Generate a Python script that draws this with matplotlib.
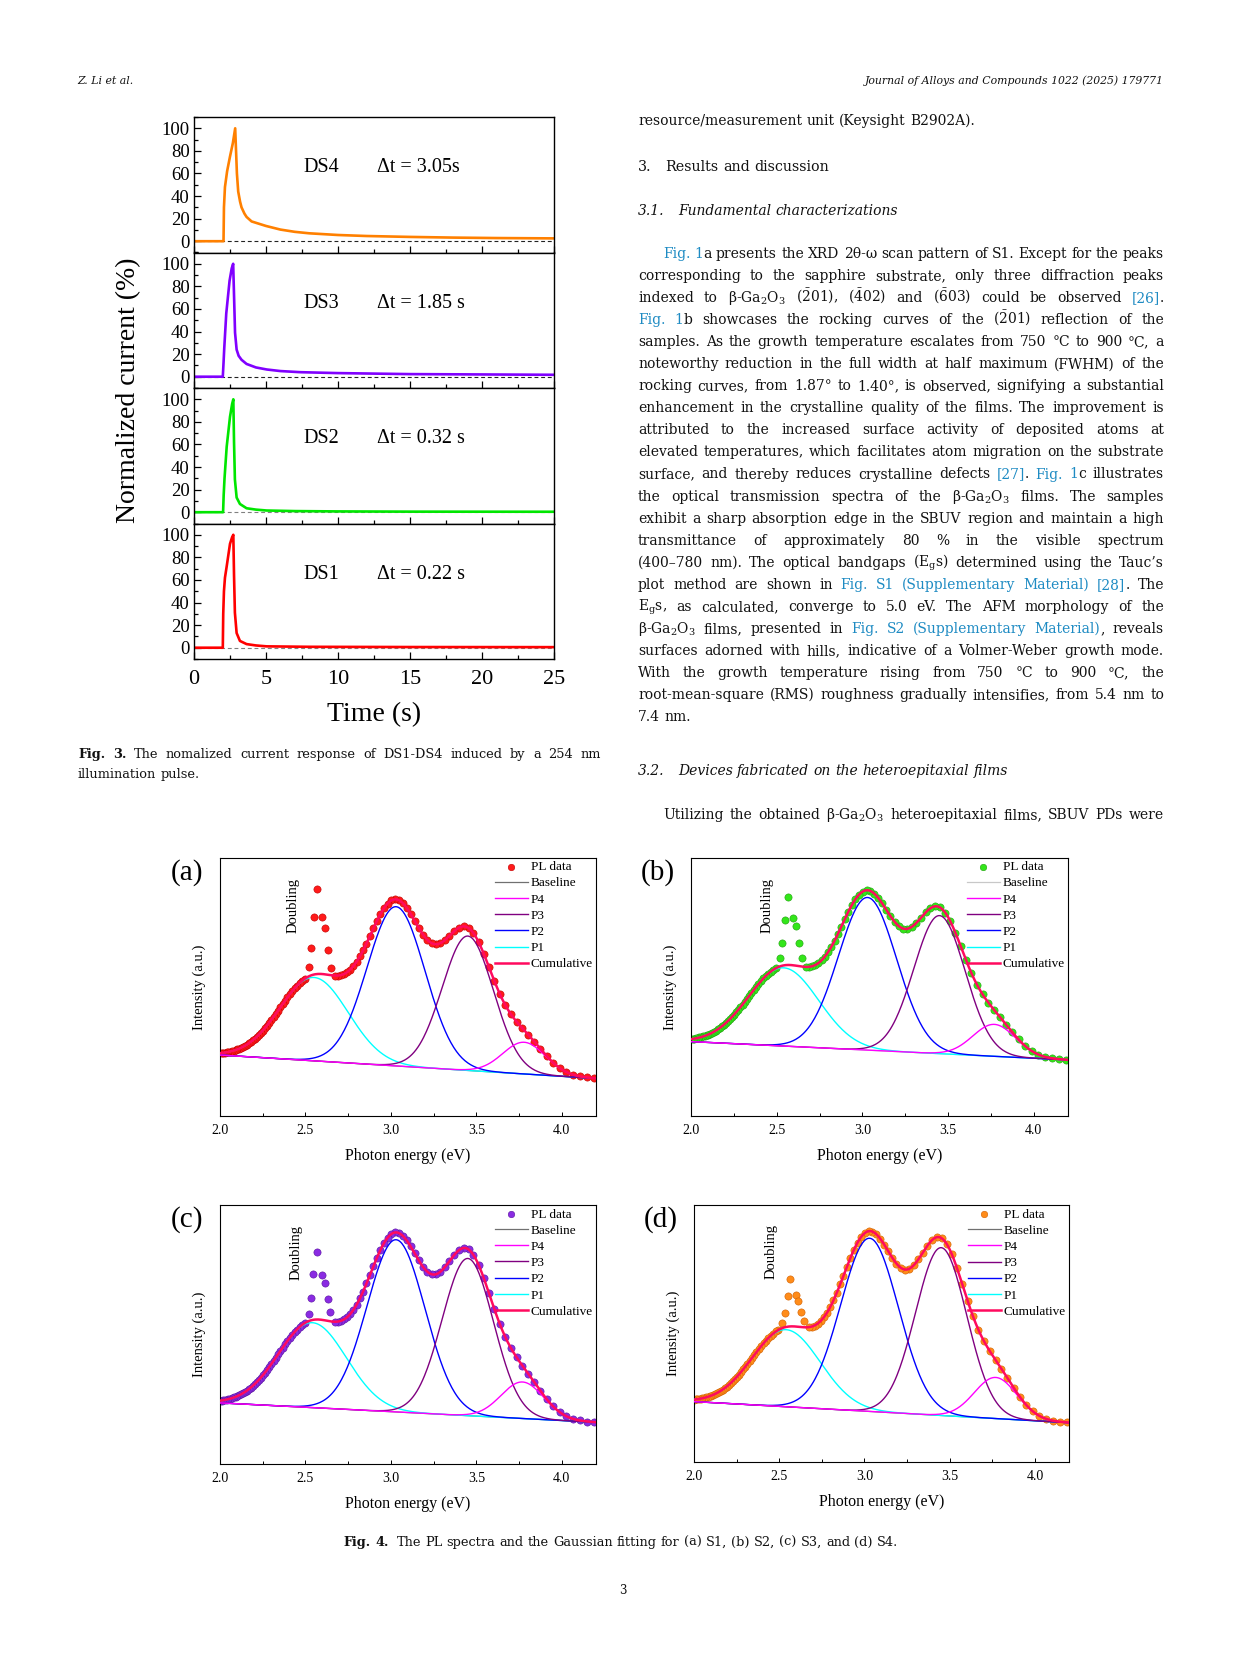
import numpy as np
import matplotlib
matplotlib.use('Agg')
import matplotlib.pyplot as plt
from matplotlib.ticker import MultipleLocator, NullLocator

plt.rcParams['font.family'] = ['Liberation Serif', 'DejaVu Serif']
plt.rcParams['mathtext.fontset'] = 'custom'
plt.rcParams['mathtext.rm'] = 'DejaVu Serif'
plt.rcParams['mathtext.default'] = 'regular'

### ---------------- Fig. 3 data: normalized photocurrent pulses ----------------
ds_names = ['DS4', 'DS3', 'DS2', 'DS1']
dt_labels = ['Δt = 3.05s', 'Δt = 1.85 s', 'Δt = 0.32 s', 'Δt = 0.22 s']
t_ds4 = [0, 2.05, 2.08, 2.15, 2.3, 2.5, 2.7, 2.86, 2.92, 2.98, 3.07, 3.2, 3.3, 3.5, 3.65, 4, 5, 6, 7, 8, 10, 12, 15, 18, 21, 25]
i_ds4 = [0, 0, 30, 48, 62, 75, 87, 100, 80, 60, 44, 35, 30, 24.5, 21.5, 17.5, 13.5, 10.3, 8.3, 7.0, 5.5, 4.6, 3.8, 3.2, 2.8, 2.5]
t_ds3 = [0, 2.0, 2.05, 2.1, 2.24, 2.47, 2.62, 2.72, 2.78, 2.85, 2.96, 3.1, 3.3, 3.65, 4.3, 5.05, 6, 7.4, 10, 15, 20, 25]
i_ds3 = [0, 0, 12, 25, 56, 85, 96, 100, 72, 39, 24, 18.5, 15, 11.3, 8.2, 6.4, 5.0, 4.0, 3.2, 2.3, 2.0, 1.7]
t_ds2 = [0, 2.02, 2.06, 2.12, 2.27, 2.5, 2.65, 2.73, 2.78, 2.84, 2.96, 3.19, 3.65, 4.3, 5.05, 7, 10, 15, 25]
i_ds2 = [0, 0, 15, 30, 58, 84.5, 96, 100, 62, 29, 13, 7.3, 3.5, 2.3, 1.5, 1.0, 0.7, 0.5, 0.4]
t_ds1 = [0, 2.0, 2.03, 2.08, 2.15, 2.27, 2.5, 2.65, 2.73, 2.78, 2.84, 2.96, 3.19, 3.65, 4.3, 5.05, 8, 15, 25]
i_ds1 = [0, 0, 30, 50, 62, 72, 92, 98, 100, 64, 31, 13, 6, 3.2, 2.0, 1.2, 0.8, 0.6, 0.5]
ds_colors = ['#FF8000', '#8000FF', '#00E600', '#FF0000']
dash_colors = ['#222222', '#222222', '#808080', '#808080']

### ---------------- Fig. 4 data: PL spectra (intensity in % of axis height) ----------------
# spectrometer grid in nm (the 2.51-2.66 eV doubling region is listed separately)
wl = np.concatenate([np.arange(296, 465, 3), np.arange(497, 621, 3)])
pl_a = [15.5, 15.8, 16.2, 17.0, 18.1, 19.7, 21.9, 24.6, 27.6, 30.5, 33.3, 36.0, 38.7, 41.8, 45.6, 50.2, 55.5, 61.1, 66.6, 71.4, 74.9, 77.1, 77.7, 77.2, 75.7,
        73.8, 72.1, 70.9, 70.4, 70.9, 72.3, 74.4, 77.1, 80.0, 82.9, 85.4, 87.3, 88.5, 88.8, 88.4, 87.1, 85.2, 82.7, 79.9, 76.9, 73.8, 70.7, 67.9, 65.4, 63.2,
        61.4, 60.0, 58.9, 58.2, 57.8, 57.6, 57.6, 56.2, 55.4, 54.5, 53.5, 52.3, 51.1, 49.9, 48.6, 47.2, 45.9, 44.5, 43.2, 41.9, 40.6, 39.4, 38.2, 37.1, 36.1,
        35.0, 34.1, 33.2, 32.4, 31.7, 31.0, 30.4, 29.8, 29.3, 28.8, 28.4, 28.0, 27.6, 27.3, 27.1, 26.8, 26.6, 26.4, 26.3, 26.1, 26.0, 25.9, 25.8, 25.8]
pl_b = [23.1, 23.3, 23.7, 24.3, 25.2, 26.7, 28.8, 31.4, 34.3, 37.4, 40.5, 43.5, 46.5, 49.9, 53.9, 58.6, 64.0, 69.7, 75.1, 79.9, 83.4, 85.5, 86.0, 85.2, 83.5,
        81.3, 79.2, 77.6, 76.8, 76.8, 77.9, 79.7, 82.0, 84.6, 87.2, 89.5, 91.2, 92.3, 92.6, 92.0, 90.8, 88.9, 86.5, 83.7, 80.7, 77.6, 74.6, 71.8, 69.3, 67.1,
        65.3, 63.8, 62.7, 61.9, 61.4, 61.2, 61.1, 60.6, 60.0, 59.2, 58.3, 57.4, 56.4, 55.3, 54.1, 52.9, 51.7, 50.5, 49.3, 48.1, 46.9, 45.7, 44.6, 43.5, 42.5,
        41.5, 40.6, 39.7, 38.9, 38.1, 37.4, 36.7, 36.1, 35.5, 35.0, 34.6, 34.1, 33.8, 33.4, 33.1, 32.8, 32.6, 32.4, 32.2, 32.0, 31.8, 31.7, 31.6, 31.5]
pl_c = [16.2, 16.4, 16.8, 17.4, 18.5, 20.0, 22.3, 25.0, 28.2, 31.5, 34.8, 38.0, 41.2, 44.8, 49.1, 54.2, 59.9, 66.0, 71.9, 76.9, 80.7, 82.9, 83.4, 82.5, 80.6,
        78.3, 76.0, 74.2, 73.3, 73.3, 74.3, 76.1, 78.6, 81.3, 84.0, 86.3, 88.1, 89.2, 89.4, 88.8, 87.4, 85.3, 82.6, 79.6, 76.3, 72.9, 69.7, 66.6, 63.9, 61.5,
        59.5, 57.9, 56.7, 55.8, 55.3, 55.0, 54.9, 54.4, 53.7, 52.9, 51.9, 50.9, 49.8, 48.7, 47.4, 46.2, 44.9, 43.6, 42.3, 41.0, 39.8, 38.6, 37.4, 36.3, 35.3,
        34.2, 33.3, 32.4, 31.6, 30.8, 30.1, 29.4, 28.8, 28.3, 27.8, 27.3, 26.9, 26.6, 26.2, 25.9, 25.7, 25.4, 25.2, 25.1, 24.9, 24.8, 24.6, 24.5, 24.5]
pl_d = [15.4, 15.7, 16.1, 16.8, 18.0, 19.7, 22.2, 25.4, 28.9, 32.6, 36.3, 39.7, 43.2, 47.0, 51.4, 56.7, 62.8, 69.2, 75.4, 80.8, 84.8, 87.0, 87.5, 86.4, 84.2,
        81.5, 78.8, 76.6, 75.2, 74.9, 75.6, 77.2, 79.5, 82.1, 84.6, 86.9, 88.6, 89.6, 89.8, 89.1, 87.6, 85.4, 82.6, 79.4, 76.0, 72.5, 69.1, 65.8, 62.9, 60.3,
        58.1, 56.3, 54.9, 53.8, 53.1, 52.7, 52.5, 51.4, 50.8, 50.0, 49.2, 48.2, 47.2, 46.2, 45.1, 43.9, 42.8, 41.6, 40.4, 39.3, 38.1, 37.0, 36.0, 35.0, 34.0,
        33.1, 32.2, 31.4, 30.7, 30.0, 29.3, 28.7, 28.2, 27.7, 27.2, 26.8, 26.5, 26.1, 25.8, 25.6, 25.3, 25.1, 25.0, 24.8, 24.7, 24.5, 24.4, 24.4, 24.3]
# second-order "doubling" points
dbl_e_a = [2.520, 2.535, 2.549, 2.567, 2.598, 2.613, 2.631, 2.647]
dbl_i_a = [60.9, 69.0, 81.4, 93.2, 81.7, 77.2, 68.0, 60.8]
dbl_e_b = [2.519, 2.533, 2.549, 2.566, 2.597, 2.615, 2.630, 2.646]
dbl_i_b = [64.6, 71.0, 80.3, 89.9, 81.0, 77.9, 70.8, 64.9]
dbl_e_c = [2.518, 2.534, 2.547, 2.565, 2.596, 2.613, 2.631, 2.645]
dbl_i_c = [58.1, 64.1, 73.3, 81.7, 72.9, 69.8, 63.6, 58.5]
dbl_e_d = [2.518, 2.533, 2.549, 2.564, 2.596, 2.611, 2.629, 2.645]
dbl_i_d = [54.0, 58.0, 64.5, 71.1, 64.8, 62.8, 58.3, 54.8]
# Gaussian fit: baseline at 2.0 / 4.2 eV, then (center eV, sigma eV, height) for P1..P4
base_a = [25.0, 15.4]
peaks_a = [[2.55, 0.20, 34.2], [3.03, 0.17, 65.3], [3.45, 0.15, 55.1], [3.78, 0.125, 13.0]]
base_b = [30.5, 23.0]
peaks_b = [[2.54, 0.205, 32.1], [3.03, 0.17, 62.6], [3.45, 0.15, 56.6], [3.77, 0.125, 13.1]]
base_c = [23.6, 16.1]
peaks_c = [[2.54, 0.20, 32.8], [3.03, 0.17, 66.5], [3.45, 0.15, 60.7], [3.77, 0.125, 14.1]]
base_d = [23.5, 15.3]
peaks_d = [[2.54, 0.20, 30.0], [3.03, 0.17, 67.4], [3.45, 0.15, 65.3], [3.77, 0.125, 16.0]]
peak_names = ['P1', 'P2', 'P3', 'P4']
peak_colors = ['#00FFFF', '#0000FF', '#800080', '#FF00FF']
pl_colors = ['#FF1A1A', '#33E61A', '#8A2BE2', '#FF8C1A']
pl_edges = ['#C00000', '#22A010', '#5A14A0', '#D06000']
base_colors = ['#707070', '#C8C8C8', '#707070', '#707070']

W, H = 1241, 1654
fig = plt.figure(figsize=(W / 100, H / 100), dpi=100)


def fx(px):
    return px / W


def fy(py):
    return 1 - py / H


### ---------------- Fig. 3 ----------------
ds_t = [t_ds4, t_ds3, t_ds2, t_ds1]
ds_i = [i_ds4, i_ds3, i_ds2, i_ds1]
top0, bot0, l0, r0 = 117, 659, 194, 554
ph = (bot0 - top0) / 4
for k in range(4):
    top = top0 + k * ph
    ax = fig.add_axes([fx(l0), fy(top + ph), (r0 - l0) / W, ph / H])
    ax.axhline(0, ls=(0, (3.5, 2.5)), color=dash_colors[k], lw=0.8)
    ax.plot(ds_t[k], ds_i[k], color=ds_colors[k], lw=1.9, solid_joinstyle='round')
    ax.set_xlim(0, 25)
    ax.set_ylim(-10, 110)
    ax.xaxis.set_major_locator(MultipleLocator(5))
    ax.xaxis.set_minor_locator(MultipleLocator(2.5))
    ax.yaxis.set_major_locator(MultipleLocator(20))
    ax.yaxis.set_minor_locator(MultipleLocator(10))
    ax.tick_params(which='both', direction='in', top=False, right=False, labelsize=13.5, pad=3)
    ax.tick_params(which='major', length=5, width=0.9)
    ax.tick_params(which='minor', length=3, width=0.9)
    for sp in ax.spines.values():
        sp.set_linewidth(1.0)
    if k < 3:
        ax.tick_params(labelbottom=False)
    else:
        ax.tick_params(axis='x', labelsize=16, pad=8)
        ax.set_xlabel('Time (s)', fontsize=20, labelpad=9)
    ax.text(7.6, 65, ds_names[k], fontsize=14.5, va='center')
    ax.text(12.7, 65, dt_labels[k], fontsize=14.5, va='center')
fig.text(fx(129), fy(390), 'Normalized current (%)', rotation=90, fontsize=20, ha='center', va='center')

### ---------------- Fig. 4 ----------------
efit = np.linspace(2.0, 4.2, 400)
e_pl = 1240.0 / wl
panels = [
    ('(a)', [220, 857.7, 596, 1116], 105.9, pl_a, dbl_e_a, dbl_i_a, base_a, peaks_a, 2.43, 86.5),
    ('(b)', [691, 857.7, 1068, 1116], 105.9, pl_b, dbl_e_b, dbl_i_b, base_b, peaks_b, 2.444, 86.5),
    ('(c)', [220, 1205, 596, 1464], 100, pl_c, dbl_e_c, dbl_i_c, base_c, peaks_c, 2.448, 81.7),
    ('(d)', [694, 1205, 1069, 1462], 100, pl_d, dbl_e_d, dbl_i_d, base_d, peaks_d, 2.45, 81.9),
]
for n, (tag, box, ytop, pl, de, di, base, peaks, dx, dy) in enumerate(panels):
    l, t, r, b = box
    ax = fig.add_axes([fx(l), fy(b), (r - l) / W, (b - t) / H])
    col = pl_colors[n]
    sc = ax.scatter(np.concatenate([e_pl, de]), np.concatenate([pl, di]), s=27, color=col,
                    edgecolors=pl_edges[n], linewidths=0.4, zorder=2, label='PL data')
    bl = base[0] + (base[1] - base[0]) * (efit - 2.0) / 2.2
    hb, = ax.plot(efit, bl, color=base_colors[n], lw=0.9, zorder=3, label='Baseline')
    comps = []
    total = bl.copy()
    for (c0, s0, h0), nm, pc in zip(peaks, peak_names, peak_colors):
        g = h0 * np.exp(-(efit - c0) ** 2 / (2 * s0 * s0))
        total = total + g
        hl, = ax.plot(efit, bl + g, color=pc, lw=1.0, zorder=4, label=nm)
        comps.append(hl)
    hc, = ax.plot(efit, total, color='#FF0A5E', lw=1.8, zorder=5, label='Cumulative')
    ax.set_xlim(2.0, 4.2)
    ax.set_ylim(0, ytop)
    ax.xaxis.set_major_locator(MultipleLocator(0.5))
    ax.xaxis.set_minor_locator(MultipleLocator(0.25))
    ax.xaxis.set_major_formatter(plt.FormatStrFormatter('%.1f'))
    ax.yaxis.set_major_locator(NullLocator())
    ax.tick_params(which='both', direction='in', top=False, right=False, labelsize=10, pad=6)
    ax.tick_params(which='major', length=3, width=0.7)
    ax.tick_params(which='minor', length=2, width=0.7)
    for sp in ax.spines.values():
        sp.set_linewidth(0.8)
    ax.set_xlabel('Photon energy (eV)', fontsize=11.5, labelpad=8)
    ax.set_ylabel('Intensity (a.u.)', fontsize=10.5, labelpad=10)
    ax.text(dx, dy, 'Doubling', rotation=90, fontsize=10.5, ha='center', va='center')
    hands = [sc, hb, comps[3], comps[2], comps[1], comps[0], hc]
    ax.legend(hands, [h.get_label() for h in hands], loc='upper right', frameon=False, fontsize=9.5,
              handlelength=2.5, handletextpad=0.2, labelspacing=0.3, borderpad=0.1,
              borderaxespad=0.15, markerscale=0.9)
    fig.text(fx(l - 33), fy(t + 15), tag, fontsize=21, ha='center', va='center')

### ---------------- page text ----------------
rend = fig.canvas.get_renderer()
LINK = '#1E8BC3'
BODY = 'DejaVu Serif'
INK = '#111111'


def put_line(x0, x1, y, s, size=10, just=True, style='normal', center=None):
    # '|' toggles link colour, '*' toggles bold
    blue = False
    bold = False
    rows = []
    for word in s.split(' '):
        segs = []
        part = ''
        for ch in word:
            if ch in '|*':
                if part:
                    segs.append((part, blue, bold))
                part = ''
                if ch == '|':
                    blue = not blue
                else:
                    bold = not bold
            else:
                part += ch
        if part:
            segs.append((part, blue, bold))
        rows.append(segs)
    objs = []
    for segs in rows:
        row = []
        for part, bl_, bd in segs:
            tx = fig.text(0, 0, part, fontsize=size, color=LINK if bl_ else INK, family=BODY, style=style,
                          weight='bold' if bd else 'normal', va='baseline', ha='left')
            row.append((tx, tx.get_window_extent(rend).width))
        objs.append(row)
    widths = [sum(w for _, w in row) for row in objs]
    gap = size * 0.32 * 100 / 72
    if just and len(objs) > 1:
        gap = max(2.5, (x1 - x0 - sum(widths)) / (len(objs) - 1))
    if center is not None:
        x0 = center - (sum(widths) + gap * (len(objs) - 1)) / 2
    x = x0
    for row in objs:
        for tx, w in row:
            tx.set_position((x / W, fy(y + 4)))
            x += w
        x += gap


fig.text(fx(77), fy(81), 'Z. Li et al.', fontsize=7.8, style='italic', family=BODY, va='center', color=INK)
fig.text(fx(1164), fy(81), 'Journal of Alloys and Compounds 1022 (2025) 179771', fontsize=7.8,
         style='italic', family=BODY, va='center', ha='right', color=INK)

XL, XR = 638, 1164
put_line(XL, XR, 121, 'resource/measurement unit (Keysight B2902A).', just=False)
put_line(XL, XR, 167, '3.   Results and discussion', size=10.3, just=False)
put_line(XL, XR, 211, '3.1.   Fundamental characterizations', style='italic', just=False)
para = [
    '|Fig. 1|a presents the XRD 2θ-ω scan pattern of S1. Except for the peaks',
    'corresponding to the sapphire substrate, only three diffraction peaks',
    r'indexed to β-Ga$_2$O$_3$ ($\bar{2}$01), ($\bar{4}$02) and ($\bar{6}$03) could be observed |[26]|.',
    r'|Fig. 1|b showcases the rocking curves of the ($\bar{2}$01) reflection of the',
    'samples. As the growth temperature escalates from 750 °C to 900 °C, a',
    'noteworthy reduction in the full width at half maximum (FWHM) of the',
    'rocking curves, from 1.87° to 1.40°, is observed, signifying a substantial',
    'enhancement in the crystalline quality of the films. The improvement is',
    'attributed to the increased surface activity of deposited atoms at',
    'elevated temperatures, which facilitates atom migration on the substrate',
    'surface, and thereby reduces crystalline defects |[27]|. |Fig. 1|c illustrates',
    'the optical transmission spectra of the β-Ga$_2$O$_3$ films. The samples',
    'exhibit a sharp absorption edge in the SBUV region and maintain a high',
    'transmittance of approximately 80 % in the visible spectrum',
    '(400–780 nm). The optical bandgaps (E$_g$s) determined using the Tauc’s',
    'plot method are shown in |Fig. S1 (Supplementary Material) [28]|. The',
    'E$_g$s, as calculated, converge to 5.0 eV. The AFM morphology of the',
    'β-Ga$_2$O$_3$ films, presented in |Fig. S2 (Supplementary Material)|, reveals',
    'surfaces adorned with hills, indicative of a Volmer-Weber growth mode.',
    'With the growth temperature rising from 750 °C to 900 °C, the',
    'root-mean-square (RMS) roughness gradually intensifies, from 5.4 nm to',
    '7.4 nm.',
]
for i, s in enumerate(para):
    x0 = XL + 25 if i == 0 else XL
    put_line(x0, XR, 254 + i * 22.05, s, just=(i < len(para) - 1))
put_line(XL, XR, 771, '3.2.   Devices fabricated on the heteroepitaxial films', style='italic', just=False)
put_line(XL + 25, XR, 815, 'Utilizing the obtained β-Ga$_2$O$_3$ heteroepitaxial films, SBUV PDs were')

# captions
put_line(78, 601, 754, '*Fig. 3.* The nomalized current response of DS1-DS4 induced by a 254 nm', size=9.3)
put_line(78, 601, 774, 'illumination pulse.', size=9.3, just=False)
put_line(0, 0, 1542, '*Fig. 4.*  The PL spectra and the Gaussian fitting for (a) S1, (b) S2, (c) S3, and (d) S4.',
         size=9.3, just=False, center=621)
fig.text(fx(623), fy(1590), '3', fontsize=8.5, family=BODY, ha='center', va='center', color=INK)

fig.savefig('out.png', dpi=100)
